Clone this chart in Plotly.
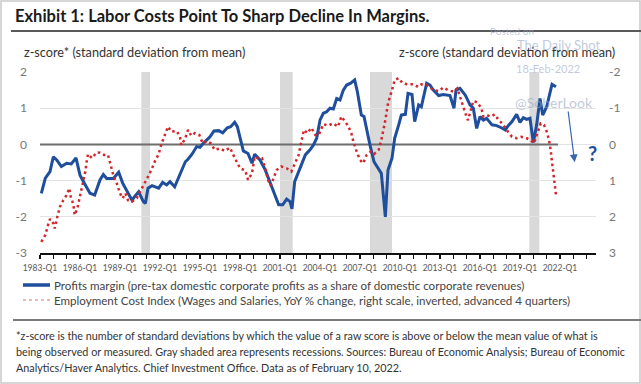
import plotly.graph_objects as go

# ---------------- data ----------------
profit_x = [1983.1, 1983.4, 1983.75, 1984.0, 1984.25, 1984.6, 1985.0, 1985.35, 1985.7, 1986.0,
            1986.4, 1986.75, 1987.1, 1987.5, 1987.75, 1988.0, 1988.5, 1988.9, 1989.2, 1989.5,
            1989.9, 1990.1, 1990.4, 1990.75, 1990.9, 1991.1, 1991.4, 1991.9, 1992.2, 1992.5,
            1992.75, 1993.1, 1993.4, 1993.6, 1993.9, 1994.1, 1994.4, 1994.75, 1995.0, 1995.25,
            1995.5, 1995.75, 1996.05, 1996.4, 1996.7, 1997.05, 1997.3, 1997.6, 1997.8, 1998.0,
            1998.25, 1998.6, 1998.9, 1999.1, 1999.5, 1999.9, 2000.25, 2000.6, 2000.9, 2001.2,
            2001.5, 2001.75, 2001.9, 2002.1, 2002.4, 2002.6, 2002.9, 2003.25, 2003.5, 2003.75,
            2004.0, 2004.25, 2004.5, 2004.75, 2005.0, 2005.25, 2005.5, 2005.75, 2006.0, 2006.3,
            2006.6, 2006.8, 2007.1, 2007.3, 2007.5, 2007.75, 2008.05, 2008.4, 2008.6, 2008.9,
            2009.1, 2009.4, 2009.6, 2009.9, 2010.1, 2010.4, 2010.6, 2010.9, 2011.1, 2011.4,
            2011.6, 2012.0, 2012.25, 2012.5, 2012.9, 2013.25, 2013.75, 2014.05, 2014.2, 2014.5,
            2014.9, 2015.25, 2015.5, 2015.75, 2016.0, 2016.25, 2016.5, 2016.9, 2017.25, 2017.6,
            2017.9, 2018.1, 2018.4, 2018.75, 2019.0, 2019.25, 2019.5, 2019.75, 2020.0, 2020.25,
            2020.5, 2020.7, 2021.0, 2021.4, 2021.7]
profit_z = [-1.35, -0.93, -0.75, -0.34, -0.43, -0.61, -0.52, -0.54, -0.37, -0.85,
            -1.12, -1.35, -1.40, -0.98, -0.83, -0.94, -0.94, -0.77, -1.07, -1.26,
            -1.54, -1.44, -1.31, -1.58, -1.63, -1.21, -1.14, -1.21, -1.05, -1.12,
            -1.03, -1.17, -0.89, -0.75, -0.48, -0.41, -0.27, -0.06, -0.08, 0.03,
            0.12, 0.21, 0.37, 0.38, 0.32, 0.46, 0.49, 0.61, 0.49, 0.21,
            -0.18, -0.25, -0.52, -0.27, -0.43, -0.71, -1.03, -1.35, -1.67, -1.67,
            -1.51, -1.58, -1.78, -1.03, -0.75, -0.61, -0.29, -0.15, -0.02, 0.17,
            0.67, 0.86, 0.90, 1.00, 0.98, 1.27, 1.23, 1.50, 1.64, 1.69,
            1.78, 1.46, 0.81, 0.77, 0.40, -0.02, -0.48, -0.71, -0.80, -2.00,
            -0.71, -0.38, 0.17, 0.54, 0.81, 0.83, 1.41, 1.38, 0.63, 1.09,
            1.04, 1.69, 1.64, 1.50, 1.35, 1.38, 1.35, 1.00, 1.50, 1.55,
            1.36, 1.09, 1.00, 0.44, 0.77, 0.67, 0.72, 0.54, 0.52, 0.46,
            0.40, 0.51, 0.63, 0.83, 0.61, 0.74, 0.69, 0.72, 0.05, 0.54,
            1.27, 0.81, 1.04, 1.66, 1.59]

# Employment Cost Index z-score (right scale, inverted)
eci_x = [1983.1, 1983.4, 1983.6, 1983.75, 1984.0, 1984.1, 1984.3, 1984.5, 1984.75, 1985.0,
         1985.2, 1985.3, 1985.5, 1985.6, 1985.8, 1986.0, 1986.2, 1986.4, 1986.5, 1986.6,
         1986.9, 1987.25, 1987.5, 1987.8, 1988.1, 1988.3, 1988.5, 1988.75, 1989.0, 1989.2,
         1989.4, 1989.6, 1989.9, 1990.25, 1990.6, 1991.0, 1991.35, 1991.6, 1991.9, 1992.1,
         1992.4, 1992.6, 1992.85, 1993.25, 1993.5, 1993.6, 1993.9, 1994.1, 1994.35, 1994.6,
         1994.95, 1995.2, 1995.5, 1995.8, 1996.1, 1996.5, 1996.85, 1997.25, 1997.5, 1997.8,
         1998.0, 1998.4, 1998.6, 1998.9, 1999.1, 1999.35, 1999.65, 1999.9, 2000.1, 2000.3,
         2000.5, 2000.75, 2001.1, 2001.5, 2001.85, 2002.1, 2002.4, 2002.6, 2002.8, 2003.05,
         2003.35, 2003.65, 2003.9, 2004.25, 2004.6, 2005.0, 2005.35, 2005.6, 2005.9, 2006.1,
         2006.35, 2006.5, 2006.75, 2007.0, 2007.25, 2007.5, 2007.8, 2008.05, 2008.4, 2008.6,
         2008.9, 2009.1, 2009.4, 2009.6, 2009.9, 2010.2, 2010.6, 2011.0, 2011.35, 2011.6,
         2012.0, 2012.5, 2012.9, 2013.25, 2013.6, 2014.0, 2014.3, 2014.55, 2014.8, 2015.0,
         2015.1, 2015.25, 2015.5, 2015.8, 2016.1, 2016.25, 2016.5, 2016.8, 2017.1, 2017.35,
         2017.75, 2018.1, 2018.4, 2018.75, 2019.1, 2019.5, 2019.8, 2020.05, 2020.3, 2020.55,
         2020.8, 2021.05, 2021.25, 2021.4, 2021.5, 2021.7]
eci_z = [2.69, 2.50, 2.23, 2.06, 2.18, 2.32, 2.00, 1.72, 1.54, 1.40,
         1.21, 1.44, 1.65, 1.95, 1.77, 1.44, 1.17, 0.75, 0.48, 0.27,
         0.38, 0.22, 0.23, 0.29, 0.29, 0.57, 0.85, 1.07, 1.35, 1.49,
         1.35, 1.54, 1.58, 1.49, 1.24, 0.98, 0.71, 0.48, 0.27, 0.00,
         -0.31, -0.49, -0.35, -0.37, -0.21, 0.02, -0.17, -0.40, -0.24, -0.31,
         -0.26, -0.03, -0.09, -0.03, 0.15, 0.11, 0.18, 0.09, 0.29, 0.52,
         0.66, 0.72, 0.98, 0.80, 0.34, 0.38, 0.38, 0.66, 0.98, 1.14,
         0.94, 0.71, 0.61, 0.66, 0.75, 0.52, 0.29, -0.08, -0.40, -0.31,
         -0.46, -0.26, -0.26, -0.56, -0.52, -0.58, -0.49, -0.77, -0.63, -0.52,
         -0.31, -0.08, 0.20, 0.43, 0.52, 0.29, 0.20, 0.27, 0.15, -0.12,
         -0.67, -1.14, -1.50, -1.78, -1.83, -1.69, -1.66, -1.66, -1.59, -1.66,
         -1.64, -1.50, -1.47, -1.57, -1.50, -1.46, -1.55, -1.25, -1.00, -0.75,
         -0.67, -0.90, -1.20, -1.16, -1.00, -0.77, -0.81, -0.77, -0.83, -0.70,
         -0.54, -0.35, -0.21, -0.17, -0.21, -0.17, -0.12, -0.03, -0.31, -0.58,
         -0.54, -0.31, 0.02, 0.48, 0.94, 1.40]

recession_start = [1990.6, 2001.0, 2007.75, 2019.7]
recession_end = [1991.25, 2001.95, 2009.4, 2020.45]

year_ticks = list(range(1983, 2025))
label_years = list(range(1983, 2023, 3))
left_ticks = [2, 1, 0, -1, -2, -3]
right_ticks = [-2, -1, 0, 1, 2, 3]
zero_span = [1983.0, 2021.85]

title_text = "Exhibit 1: Labor Costs Point To Sharp Decline In Margins."
left_title = "z-score* (standard deviation from mean)"
right_title = "z-score (standard deviation from mean)"
legend_profit = "Profits margin (pre-tax domestic corporate profits as a share of domestic corporate revenues)"
legend_eci = "Employment Cost Index (Wages and Salaries, YoY % change, right scale, inverted, advanced 4 quarters)"
footnote_lines = [
    "*z-score is the number of standard deviations by which the value of a raw score is above or below the mean value of what is",
    "being observed or measured. Gray shaded area represents recessions. Sources: Bureau of Economic Analysis; Bureau of Economic",
    "Analytics/Haver Analytics. Chief Investment Office. Data as of February 10, 2022.",
]

# ---------------- layout geometry ----------------
W, H = 641, 384
L, R, T, B = 40, 45, 72, 131
PW, PH = W - L - R, H - T - B
FONT = "Lato"
BLUE = "#1f4e9c"
RED = "#d3262b"


def px(xp):
    return (xp - L) / PW


def py(yp):
    return (H - B - yp) / PH


fig = go.Figure()

fig.add_trace(go.Scatter(x=zero_span, y=[0, 0], mode="lines",
                         line=dict(color="#6d6d6d", width=2), showlegend=False,
                         hoverinfo="skip"))
fig.add_trace(go.Scatter(x=eci_x, y=eci_z, mode="lines", yaxis="y2",
                         line=dict(color=RED, width=2.5, dash="2.5px,3.2px"),
                         name=legend_eci, showlegend=False))
fig.add_trace(go.Scatter(x=profit_x, y=profit_z, mode="lines",
                         line=dict(color=BLUE, width=3), name=legend_profit,
                         showlegend=False))

shapes = []
for s, e in zip(recession_start, recession_end):
    shapes.append(dict(type="rect", xref="x", yref="paper", x0=s, x1=e, y0=0, y1=1,
                       fillcolor="#d9d9d9", line=dict(width=0), layer="below"))
# frame
shapes.append(dict(type="rect", xref="paper", yref="paper", x0=px(1), x1=px(640),
                   y0=py(383), y1=py(1), line=dict(color="#c9c9c9", width=1.5)))
# title underline and separator
shapes.append(dict(type="line", xref="paper", yref="paper", x0=px(11), x1=px(641),
                   y0=py(31), y1=py(31), line=dict(color="#5a5a5a", width=2)))
shapes.append(dict(type="line", xref="paper", yref="paper", x0=px(13), x1=px(641),
                   y0=py(320), y1=py(320), line=dict(color="#7a7a7a", width=2)))
# legend swatches
shapes.append(dict(type="line", xref="paper", yref="paper", x0=px(23), x1=px(50),
                   y0=py(285), y1=py(285), line=dict(color=BLUE, width=3.5)))
shapes.append(dict(type="line", xref="paper", yref="paper", x0=px(23), x1=px(50),
                   y0=py(300), y1=py(300), line=dict(color="#e07070", width=1, dash="dot")))

ann = []
ann.append(dict(text=title_text, x=px(13), y=py(16), xref="paper", yref="paper",
                xanchor="left", yanchor="middle", showarrow=False,
                font=dict(family=FONT, size=16.5, color="#1a1a1a", weight="bold")))
ann.append(dict(text=left_title, x=px(22), y=py(52), xref="paper", yref="paper",
                xanchor="left", yanchor="middle", showarrow=False,
                font=dict(family=FONT, size=12.7, color="#333")))
ann.append(dict(text=right_title, x=px(617), y=py(52), xref="paper", yref="paper",
                xanchor="right", yanchor="middle", showarrow=False,
                font=dict(family=FONT, size=12.7, color="#333")))
ann.append(dict(text=legend_profit, x=px(52), y=py(285), xref="paper", yref="paper",
                xanchor="left", yanchor="middle", showarrow=False,
                font=dict(family=FONT, size=11.6, color="#444")))
ann.append(dict(text=legend_eci, x=px(52), y=py(300), xref="paper", yref="paper",
                xanchor="left", yanchor="middle", showarrow=False,
                font=dict(family=FONT, size=11.6, color="#444")))
for i, line in enumerate(footnote_lines):
    ann.append(dict(text=line, x=px(14), y=py(335 + 16 * i), xref="paper", yref="paper",
                    xanchor="left", yanchor="middle", showarrow=False,
                    font=dict(family=FONT, size=10.8, color="#333")))
# watermark
wm = "rgba(150,165,195,0.6)"
for txt, xx, yy, sz in [("Posted on", 512, 31, 10), ("The Daily Shot", 559, 45, 13),
                        ("18-Feb-2022", 548, 69, 11), ("@SoberLook", 554, 102, 14)]:
    ann.append(dict(text=txt, x=px(xx), y=py(yy), xref="paper", yref="paper",
                    xanchor="center", yanchor="middle", showarrow=False,
                    font=dict(family=FONT, size=sz, color=wm)))
# arrow and question mark
ann.append(dict(x=2023.1, y=-0.49, ax=2022.6, ay=0.95, xref="x", yref="y",
                axref="x", ayref="y", text="", showarrow=True, arrowhead=2,
                arrowsize=1.3, arrowwidth=1.2, arrowcolor="#3a66b0"))
ann.append(dict(x=2024.4, y=-0.24, xref="x", yref="y", text="?", showarrow=False,
                font=dict(family=FONT, size=20, color=BLUE, weight="bold")))

fig.update_layout(
    width=W, height=H,
    margin=dict(l=L, r=R, t=T, b=B, pad=0),
    paper_bgcolor="white", plot_bgcolor="white",
    showlegend=False,
    font=dict(family=FONT),
    shapes=shapes, annotations=ann,
    xaxis=dict(range=[1983, 2024.7], tickvals=year_ticks,
               ticktext=[f"{y}-Q1" if y in label_years else "" for y in year_ticks],
               ticks="outside", ticklen=4, tickwidth=1.3, tickcolor="#111",
               showline=True, linecolor="#111", linewidth=1.5, showgrid=False,
               zeroline=False, tickfont=dict(family=FONT, size=8.5, color="#555"),
               ticklabelstandoff=2, tickangle=0, anchor="y"),
    xaxis2=dict(range=[1983, 2024.7], tickvals=year_ticks, overlaying="x", anchor="y",
                ticks="inside", ticklen=4, tickwidth=1.3, tickcolor="#111",
                showticklabels=False, showline=False, showgrid=False, zeroline=False),
    yaxis=dict(range=[-3, 2], tickvals=left_ticks, ticktext=[str(v) for v in left_ticks],
               showgrid=True, gridcolor="#e3e3e3", gridwidth=1, zeroline=False,
               showline=False, ticks="", tickfont=dict(family=FONT, size=12, color="#777"),
               ticklabelstandoff=12),
    yaxis2=dict(range=[3, -2], tickvals=right_ticks, ticktext=[str(v) for v in right_ticks],
                overlaying="y", side="right", showgrid=False, zeroline=False,
                showline=False, ticks="", tickfont=dict(family=FONT, size=12, color="#777"),
                ticklabelstandoff=12),
)

fig.write_html("out.html", config={"displayModeBar": False, "staticPlot": True},
               post_script="document.body.style.margin='0';document.body.style.overflow='hidden';")
